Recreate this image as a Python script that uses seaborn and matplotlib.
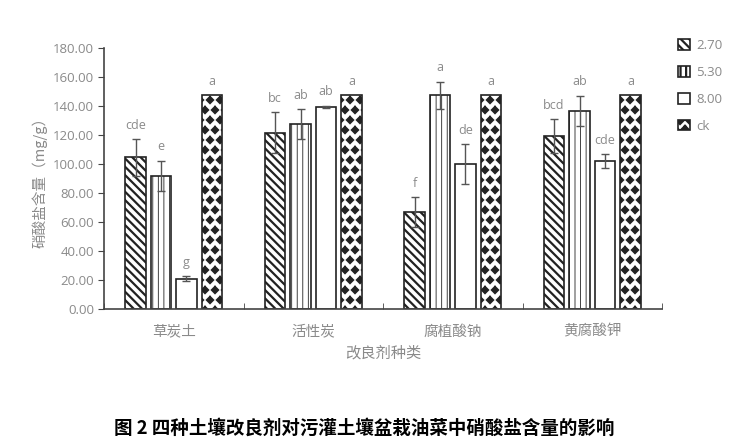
import numpy as np
import pandas as pd
import matplotlib
matplotlib.use('Agg')
import matplotlib.pyplot as plt
import matplotlib.hatch as mhatch
from matplotlib.path import Path
import seaborn as sns

# data
categories = ['草炭土', '活性炭', '腐植酸钠', '黄腐酸钾']
doses = ['2.70', '5.30', '8.00', 'ck']
val_270 = [104.6, 121.6, 67.0, 119.3]
val_530 = [92.0, 127.5, 147.4, 136.5]
val_800 = [21.1, 139.2, 99.8, 102.0]
val_ck = [147.5, 147.5, 147.5, 147.5]
err_270 = [12.6, 14.0, 10.3, 11.7]
err_530 = [10.3, 10.0, 9.3, 10.5]
err_800 = [1.5, 1.0, 13.7, 5.0]
err_ck = [0, 0, 0, 0]
letters_270 = ['cde', 'bc', 'f', 'bcd']
letters_530 = ['e', 'ab', 'a', 'ab']
letters_800 = ['g', 'ab', 'de', 'cde']
letters_ck = ['a', 'a', 'a', 'a']


# filled diamond hatch, used in place of the star hatch for the ck bars
class Diamonds(mhatch.Shapes):
    size = 0.4
    filled = True

    def __init__(self, hatch, density):
        self.num_rows = hatch.count('*') * 5
        path = Path.unit_regular_polygon(4)
        self.shape_vertices = path.vertices
        self.shape_codes = np.full(len(self.shape_vertices), Path.LINETO,
                                   dtype=Path.code_type)
        self.shape_codes[0] = Path.MOVETO
        super().__init__(hatch, density)


mhatch._hatch_types = [h for h in mhatch._hatch_types if h is not mhatch.Stars] + [Diamonds]

vals = [val_270, val_530, val_800, val_ck]
errs = [err_270, err_530, err_800, err_ck]
lets = [letters_270, letters_530, letters_800, letters_ck]

df = pd.DataFrame({
    'category': np.tile(categories, len(doses)),
    'dose': np.repeat(doses, len(categories)),
    'value': np.concatenate(vals),
})

sns.set_style('ticks')
plt.rcParams['font.family'] = ['Noto Sans CJK SC', 'DejaVu Sans']
plt.rcParams['hatch.linewidth'] = 1.6
plt.rcParams['axes.unicode_minus'] = False

grey = '#8a8a8a'
fig = plt.figure(figsize=(7.35, 4.48), dpi=100)
ax = fig.add_axes([0.1415, 0.3096, 0.7592, 0.5839])

sns.barplot(data=df, x='category', y='value', hue='dose', order=categories,
            hue_order=doses, width=0.73, gap=0.2, errorbar=None,
            palette=['white'] * 4, edgecolor='#222222', linewidth=1.2, ax=ax)
if ax.get_legend() is not None:
    ax.get_legend().remove()

bar_conts = list(ax.containers)
hatches = ['\\\\\\\\', '|||', '', '**']
hatch_lw = [1.6, 0.6, 1.0, 0.6]
for i, cont in enumerate(bar_conts):
    for j, bar in enumerate(cont.patches):
        bar.set_facecolor('white')
        bar.set_hatch(hatches[i])
        if hasattr(bar, 'set_hatch_linewidth'):
            bar.set_hatch_linewidth(hatch_lw[i])
        x = bar.get_x() + bar.get_width() / 2
        h = bar.get_height()
        e = errs[i][j]
        if e > 0:
            ax.errorbar(x, h, yerr=e, fmt='none', ecolor='#555555',
                        elinewidth=1, capsize=3, capthick=1, zorder=5)
        ax.text(x, h + e + 5, lets[i][j], ha='center', va='bottom',
                fontsize=9, color=grey, family=['Open Sans', 'DejaVu Sans'])

ax.set_ylim(0, 180)
ax.set_xlim(-0.5, 3.5)
ax.set_yticks(np.arange(0, 181, 20))
ax.set_yticklabels([f'{v:.2f}' for v in np.arange(0, 181, 20)],
                   family=['Open Sans', 'DejaVu Sans'])
ax.set_xticks(np.arange(-0.5, 3.6, 1), minor=True)
ax.tick_params(axis='x', which='major', length=0, labelsize=10.5,
               labelcolor=grey, pad=11)
ax.tick_params(axis='x', which='minor', direction='in', length=4,
               color='#444444')
ax.tick_params(axis='y', labelsize=9.5, labelcolor=grey, length=4,
               color='#444444', pad=3)
for s in ['top', 'right']:
    ax.spines[s].set_visible(False)
for s in ['left', 'bottom']:
    ax.spines[s].set_color('#444444')
    ax.spines[s].set_linewidth(1.2)

ax.set_xlabel('改良剂种类', fontsize=11, color=grey, labelpad=4)
ax.set_ylabel('硝酸盐含量（mg/g）', fontsize=10.5, color=grey, labelpad=4)

handles = [cont.patches[0] for cont in bar_conts]
leg = fig.legend(handles, doses, loc='upper left', bbox_to_anchor=(0.915, 0.925),
                 frameon=False, handlelength=0.9, handleheight=0.9,
                 labelspacing=1.05, handletextpad=0.5, borderaxespad=0,
                 prop={'family': ['Open Sans', 'DejaVu Sans'], 'size': 9.5})
for t in leg.get_texts():
    t.set_color(grey)

fig.text(0.495, 0.045, '图 2 四种土壤改良剂对污灌土壤盆栽油菜中硝酸盐含量的影响',
         ha='center', va='center', fontsize=13.3, fontweight='bold', color='black')

fig.savefig('out.png', dpi=100)
